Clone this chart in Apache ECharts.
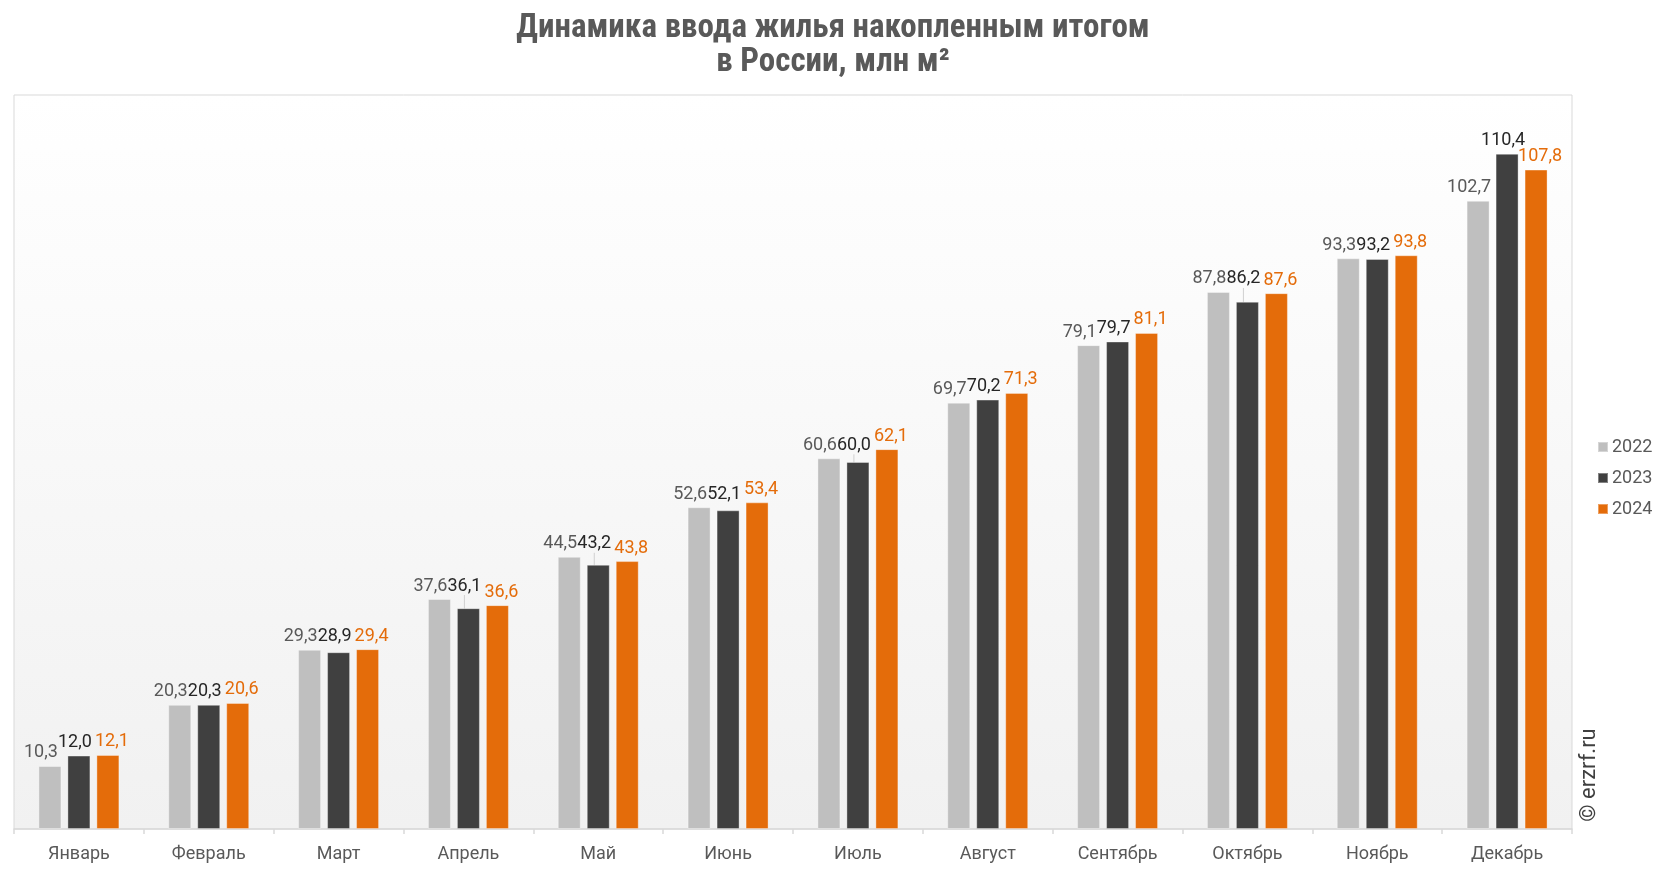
<!DOCTYPE html>
<html>
<head>
<meta charset="utf-8">
<script src="https://cdn.jsdelivr.net/npm/echarts@6/dist/echarts.min.js"></script>
<style>
html,body{margin:0;padding:0;background:#fff;}
#chart{width:1666px;height:872px;}
</style>
</head>
<body>
<div id="chart"></div>
<script>
const categories = ['Январь','Февраль','Март','Апрель','Май','Июнь','Июль','Август','Сентябрь','Октябрь','Ноябрь','Декабрь'];
const seriesNames = ['2022','2023','2024'];
const values2022 = [10.3, 20.3, 29.3, 37.6, 44.5, 52.6, 60.6, 69.7, 79.1, 87.8, 93.3, 102.7];
const values2023 = [12.0, 20.3, 28.9, 36.1, 43.2, 52.1, 60.0, 70.2, 79.7, 86.2, 93.2, 110.4];
const values2024 = [12.1, 20.6, 29.4, 36.6, 43.8, 53.4, 62.1, 71.3, 81.1, 87.6, 93.8, 107.8];
const yMin = 0, yMax = 120;

const barColors = ['#bfbfbf', '#404040', '#e46c0a'];
const labelColors = ['#595959', '#262626', '#e46c0a'];
const labelDx = [-9, -4, 4];

const fmt = v => v.toFixed(1).replace('.', ',');

const chart = echarts.init(document.getElementById('chart'));

function makeSeries(idx, vals) {
  return {
    name: seriesNames[idx],
    type: 'bar',
    barWidth: 23,
    barGap: '26%',
    itemStyle: { color: barColors[idx], borderColor: 'rgba(255,255,255,0.35)', borderWidth: 1 },
    label: {
      show: true,
      position: 'top',
      distance: 4,
      color: labelColors[idx],
      fontFamily: 'Roboto',
      fontSize: 18,
      formatter: p => fmt(p.value)
    },
    labelLine: { show: false, lineStyle: { color: '#d0d0d0', width: 1 } },
    labelLayout: function (params) {
      const res = { dx: labelDx[params.seriesIndex] };
      if (params.seriesIndex === 1) {
        const i = params.dataIndex;
        const v22 = values2022[i], v23 = values2023[i];
        if (v22 > v23 && params.rect && params.rect.height > 0) {
          const ppu = params.rect.height / v23;
          res.dy = -(v22 - v23) * ppu;
        }
      }
      return res;
    },
    data: vals.map((v, i) => {
      const item = { value: v };
      if (idx === 1 && values2022[i] - v > 0.5) {
        item.labelLine = { show: true, length2: 0 };
      }
      return item;
    })
  };
}

const option = {
  backgroundColor: '#ffffff',
  animation: false,
  title: {
    text: 'Динамика ввода жилья накопленным итогом\nв России, млн м²',
    left: 'center',
    top: 7,
    textStyle: {
      fontFamily: '"Liberation Sans Narrow", "Arial Narrow", "Roboto Condensed", sans-serif',
      fontWeight: 'bold',
      fontSize: 33,
      lineHeight: 34,
      color: '#595959'
    }
  },
  legend: {
    orient: 'vertical',
    left: 1592,
    top: 433,
    itemWidth: 10,
    itemHeight: 10,
    itemGap: 13,
    icon: 'rect',
    textStyle: { fontFamily: 'Roboto', fontSize: 18, color: '#595959', padding: [0, 0, 0, -1] },
    data: seriesNames
  },
  grid: {
    left: 14,
    right: 94,
    top: 95,
    bottom: 43,
    show: true,
    borderColor: '#d9d9d9',
    borderWidth: 1,
    backgroundColor: new echarts.graphic.LinearGradient(0, 0, 0, 1, [
      { offset: 0, color: '#ffffff' },
      { offset: 1, color: '#f1f1f1' }
    ])
  },
  xAxis: {
    type: 'category',
    data: categories,
    axisLine: { show: true, lineStyle: { color: '#d9d9d9', width: 1.5 } },
    axisTick: { show: true, length: 5, lineStyle: { color: '#d9d9d9', width: 1.5 } },
    axisLabel: { fontFamily: 'Roboto', fontSize: 18, color: '#595959', margin: 16 }
  },
  yAxis: {
    type: 'value',
    min: yMin,
    max: yMax,
    show: false,
    splitLine: { show: false }
  },
  graphic: [{
    type: 'text',
    x: 1589,
    y: 775,
    rotation: Math.PI / 2,
    style: {
      text: '© erzrf.ru',
      fontFamily: 'Roboto',
      fontSize: 22,
      fill: '#404040',
      align: 'center',
      verticalAlign: 'middle'
    }
  }],
  series: [
    makeSeries(0, values2022),
    makeSeries(1, values2023),
    makeSeries(2, values2024)
  ]
};

chart.setOption(option);
</script>
</body>
</html>
